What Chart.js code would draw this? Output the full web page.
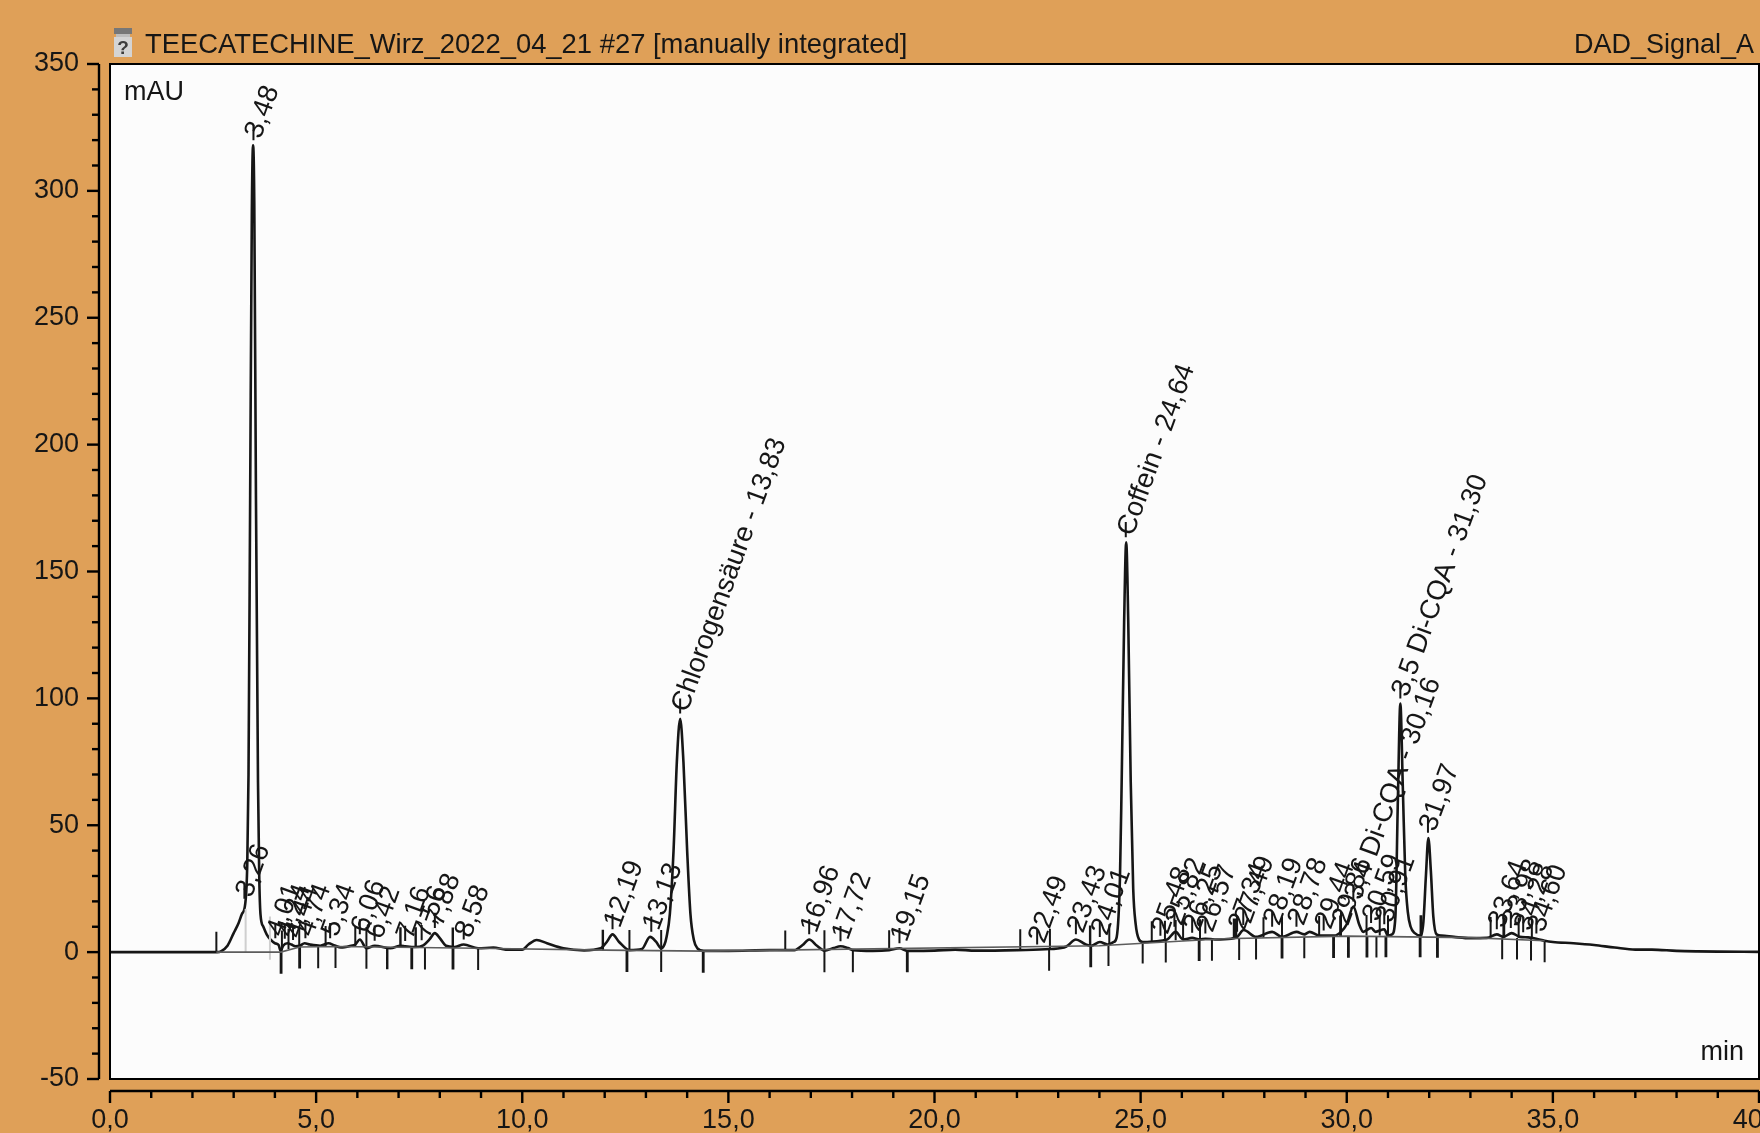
<!DOCTYPE html>
<html>
<head>
<meta charset="utf-8">
<title>TEECATECHINE_Wirz_2022_04_21 #27</title>
<script src="https://cdn.jsdelivr.net/npm/chart.js@4/dist/chart.umd.js"></script>
<style>
    html, body { margin: 0; padding: 0; background: #dfa058; overflow: hidden; }
    canvas { display: block; }
</style>
</head>
<body>
<canvas id="chartOne" width="1760" height="1133"></canvas>
<script>
const titleText = 'TEECATECHINE_Wirz_2022_04_21 #27 [manually integrated]';
const signalText = 'DAD_Signal_A';

const xTickLabels = ['0,0', '5,0', '10,0', '15,0', '20,0', '25,0', '30,0', '35,0', '40,0'];
const yTickLabels = ['-50', '0', '50', '100', '150', '200', '250', '300', '350'];

// chromatogram
const curveTimes = [0, 2.6, 2.7, 2.85, 3.0, 3.12, 3.2, 3.28, 3.33, 3.36, 3.4, 3.44, 3.47, 3.5, 3.54, 3.59, 3.62, 3.65, 3.72, 3.8, 3.89, 4.0, 4.09, 4.14, 4.2, 4.3, 4.4, 4.5, 4.6, 4.72, 4.85, 5.1, 5.3, 5.45, 5.6, 5.85, 5.95, 6.06, 6.22, 6.42, 6.8, 7.05, 7.16, 7.4, 7.6, 7.75, 7.88, 8.0, 8.15, 8.35, 8.58, 8.93, 9.3, 9.6, 10.0, 10.15, 10.35, 10.6, 11.0, 11.5, 11.9, 12.05, 12.19, 12.35, 12.6, 12.9, 13.1, 13.25, 13.37, 13.45, 13.5, 13.58, 13.67, 13.75, 13.83, 13.91, 14.0, 14.08, 14.16, 14.25, 14.4, 15.0, 16.0, 16.6, 16.8, 16.96, 17.15, 17.33, 17.55, 17.72, 17.9, 18.02, 18.5, 18.9, 19.15, 19.34, 20.0, 20.5, 21.0, 22.0, 22.8, 23.2, 23.43, 23.65, 23.8, 24.01, 24.2, 24.35, 24.42, 24.5, 24.54, 24.6, 24.65, 24.7, 24.76, 24.82, 24.88, 24.96, 25.05, 25.3, 25.48, 25.65, 25.85, 26.03, 26.25, 26.44, 26.57, 26.8, 27.2, 27.34, 27.5, 27.8, 28.19, 28.43, 28.78, 28.97, 29.1, 29.33, 29.44, 29.7, 29.86, 30.0, 30.16, 30.3, 30.4, 30.59, 30.7, 30.91, 31.0, 31.1, 31.18, 31.24, 31.3, 31.36, 31.42, 31.48, 31.55, 31.65, 31.8, 31.86, 31.92, 31.98, 32.04, 32.1, 32.18, 32.3, 32.6, 33.0, 33.4, 33.64, 33.8, 34.0, 34.2, 34.4, 34.6, 34.8, 35.0, 35.5, 36.0, 36.5, 37.0, 37.4, 38.0, 38.5, 39.0, 40.0];
const curveValues = [0, 0, 0.4, 2.5, 7.5, 11.5, 15, 19, 35, 70, 180, 290, 318, 295, 180, 67, 30, 15, 10, 7, 5, 3.5, 2.8, 0.5, 2.5, 3.5, 3, 2.3, 2.5, 3.5, 3, 2.5, 3.5, 2.6, 1.8, 2.5, 3, 5, 1.5, 2.5, 1.5, 2.5, 2.3, 2, 2.7, 5, 7.5, 5.5, 2.5, 2, 3, 1.5, 1.8, 1, 1, 3, 4.8, 3.5, 1.5, 0.7, 1.5, 4, 7, 4, 0.8, 1.2, 6, 4, 1.5, 3, 6, 15, 40, 75, 92, 75, 40, 15, 5, 1.5, 0.5, 0.5, 0.8, 0.8, 2.8, 5, 2.5, 0.6, 1.6, 2.3, 1.6, 0.8, 0.5, 0.8, 1.5, 0.5, 0.6, 1, 0.6, 0.8, 1.2, 2.2, 5, 3.2, 2.5, 4, 3, 4, 6, 30, 67, 130, 161.5, 130, 67, 25, 11, 5, 4, 4.2, 4.5, 5, 8, 5, 5.6, 5, 5.3, 5, 5.3, 6, 8.7, 6, 8, 6, 8, 7, 8, 6.5, 6.5, 6.5, 8, 11, 18, 11, 8, 9.5, 8, 9, 6.5, 7, 14, 60, 98, 65, 30, 16, 10, 7.5, 6.5, 12, 30, 45, 32, 14, 7, 6.5, 6, 5.5, 5.6, 7, 6, 7.5, 6, 5.8, 5.3, 4.5, 4, 3.5, 2.8, 1.8, 1, 1, 0.5, 0.3, 0.2, 0.1];

// integrated baseline
const baseTimes = [2.58, 4.14, 4.6, 5.5, 8.9, 12, 14.4, 24, 27, 30, 33, 34.8];
const baseValues = [0, 0, 2, 2.2, 1.5, 0.8, 0.4, 2.5, 5.3, 6.3, 5.7, 4.5];

// peak start / end ticks
const startTimes = [2.58, 4.17, 4.33, 4.59, 5.23, 5.95, 6.22, 7.04, 7.05, 7.41, 7.42, 8.31, 8.32, 11.95, 11.96, 12.6, 13.37, 16.38, 17.33, 18.9, 22.08, 22.8, 23.77, 23.78, 24.24, 25.27, 25.59, 25.85, 26.03, 26.44, 27.26, 27.29, 27.32, 27.98, 28.43, 29.33, 29.84, 29.86, 30.48, 30.8, 31.0, 31.79, 31.81, 33.49, 33.8, 33.82, 34.17, 34.49];
const startBase = [0, 0.5, 1.2, 2, 2.3, 2.2, 1.9, 1.8, 1.8, 1.8, 1.8, 1.7, 1.7, 0.8, 0.8, 0.7, 0.7, 0.5, 0.6, 0.6, 1, 1.2, 2.5, 2.5, 3, 4.2, 4.4, 4.7, 4.8, 5, 5.3, 5.3, 5.3, 5.7, 6, 6.2, 6.4, 6.4, 6.6, 6.6, 6.5, 6.5, 6.5, 5.8, 5.7, 5.7, 5.6, 5.2];
const endTimes = [4.14, 4.16, 4.59, 4.61, 5.05, 5.47, 6.22, 6.72, 6.73, 7.31, 7.33, 7.64, 8.31, 8.33, 8.93, 12.53, 12.55, 13.37, 14.38, 14.4, 17.33, 18.02, 19.33, 19.35, 22.78, 23.78, 23.8, 24.22, 25.05, 25.61, 26.41, 26.43, 26.73, 27.39, 27.8, 28.42, 28.44, 28.97, 29.67, 29.69, 30.03, 30.05, 30.48, 30.5, 30.72, 30.94, 30.96, 31.77, 31.79, 32.19, 32.21, 33.77, 34.13, 34.47, 34.8];
const endBase = [0, 0, 2, 2, 2.1, 2.2, 1.9, 1.8, 1.8, 1.8, 1.8, 1.7, 1.7, 1.7, 1.5, 0.7, 0.7, 0.7, 0.4, 0.4, 0.6, 0.6, 0.6, 0.6, 1.2, 2.5, 2.5, 3, 4, 4.4, 5, 5, 5.1, 5.4, 5.6, 6, 6, 6.1, 6.2, 6.2, 6.3, 6.3, 6.4, 6.4, 6.4, 6.5, 6.5, 6.5, 6.5, 6.3, 6.3, 5.7, 5.6, 5.2, 4.5];
const greyTimes = [3.29, 3.88];
const greyBase = [0, -3];

// peak labels
const peakLabels = ['3,26', '3,48', '4,01', '4,24', '4,44', '4,74', '5,34', '6,06', '6,42', '7,16', '7,56', '7,88', '8,58', '12,19', '13,13', 'Chlorogensäure - 13,83', '16,96', '17,72', '19,15', '22,49', '23,43', '24,01', 'Coffein - 24,64', '25,48', '25,82', '26,25', '26,57', '27,34', '27,49', '28,19', '28,78', '29,44', '29,86', '3,4 Di-CQA - 30,16', '30,59', '30,91', '3,5 Di-CQA - 31,30', '31,97', '33,64', '33,98', '34,28', '34,60'];
const peakTimes = [3.26, 3.48, 4.01, 4.24, 4.44, 4.74, 5.34, 6.06, 6.42, 7.16, 7.56, 7.88, 8.58, 12.19, 13.13, 13.83, 16.96, 17.72, 19.15, 22.49, 23.43, 24.01, 24.64, 25.48, 25.82, 26.25, 26.57, 27.34, 27.49, 28.19, 28.78, 29.44, 29.86, 30.16, 30.59, 30.91, 31.3, 31.97, 33.64, 33.98, 34.28, 34.6];
const peakTops = [19, 318, 3.5, 3.3, 2.8, 3.5, 3.5, 5, 2.5, 2.4, 2.7, 7.5, 3, 7, 6, 92, 5, 2.3, 1.5, 1, 5, 4, 161.5, 4.5, 8, 5.6, 5.3, 6, 8.7, 8, 8, 6.5, 8, 18, 9.5, 9, 98, 45, 7, 7.5, 5.8, 5.3];

function toPoints(times, values) {
    return times.map((t, i) => ({ x: t, y: values[i] }));
}

// one short vertical stroke per time, separated by gaps
function toStrokes(times, bases, from, to) {
    const pts = [];
    times.forEach((t, i) => {
        pts.push({ x: t, y: bases[i] + from });
        pts.push({ x: t, y: bases[i] + to });
        pts.push({ x: t, y: null });
    });
    return pts;
}

function lineSet(data, color, width) {
    return { data: data, showLine: true, borderColor: color, borderWidth: width, pointRadius: 0, spanGaps: false };
}

const numFont = '"Liberation Sans", Arial, sans-serif';
const ink = '#161616';

const decor = {
    id: 'decor',
    beforeDraw(chart) {
        const a = chart.chartArea, c = chart.ctx;
        c.fillStyle = '#fcfcfc';
        c.fillRect(a.left, a.top, a.right - a.left, a.bottom - a.top);
    },
    afterDatasetsDraw(chart) {
        const c = chart.ctx, a = chart.chartArea;
        const xs = chart.scales.x, ys = chart.scales.y;
        c.save();

        // frame
        c.strokeStyle = '#000';
        c.lineWidth = 2;
        c.strokeRect(a.left, a.top, a.right - a.left, a.bottom - a.top);

        // separate axes
        c.lineWidth = 2.4;
        c.beginPath();
        c.moveTo(99, ys.getPixelForValue(350));
        c.lineTo(99, ys.getPixelForValue(-50));
        c.moveTo(xs.getPixelForValue(0), 1091);
        c.lineTo(xs.getPixelForValue(40), 1091);
        c.stroke();
        ys.ticks.forEach((t) => {
            const p = ys.getPixelForValue(t.value);
            c.beginPath();
            c.moveTo(99, p);
            c.lineTo(t.value % 50 === 0 ? 87 : 92, p);
            c.stroke();
        });
        xs.ticks.forEach((t) => {
            const p = xs.getPixelForValue(t.value);
            c.beginPath();
            c.moveTo(p, 1091);
            c.lineTo(p, t.value % 5 === 0 ? 1103 : 1098);
            c.stroke();
        });

        // rotated peak labels
        c.fillStyle = ink;
        c.font = '27.5px ' + numFont;
        c.textAlign = 'left';
        c.textBaseline = 'middle';
        peakLabels.forEach((label, i) => {
            c.save();
            c.translate(xs.getPixelForValue(peakTimes[i]), ys.getPixelForValue(peakTops[i]) - 8);
            c.rotate(-70 * Math.PI / 180);
            c.fillText(label, 0, 0);
            c.restore();
        });

        // header and units
        c.textBaseline = 'alphabetic';
        c.font = '27.4px ' + numFont;
        c.fillText(titleText, 145, 53);
        c.textAlign = 'right';
        c.font = '27px ' + numFont;
        c.fillText(signalText, 1754, 53);
        c.fillText('min', 1744, 1060);
        c.textAlign = 'left';
        c.fillText('mAU', 124, 100);

        // vial icon
        c.fillStyle = '#777';
        c.fillRect(114, 28, 18, 6);
        c.fillStyle = '#bdbdbd';
        c.fillRect(116, 34, 14, 3);
        c.fillStyle = '#d4d4d4';
        c.fillRect(114, 37, 18, 20);
        c.fillStyle = '#3c3c3c';
        c.font = 'bold 19px ' + numFont;
        c.textAlign = 'center';
        c.fillText('?', 123, 54);
        c.restore();
    }
};

function getChartOne() {
    const ctxOne = document.getElementById('chartOne').getContext('2d');
    const curve = lineSet(toPoints(curveTimes, curveValues), ink, 2.6);
    curve.cubicInterpolationMode = 'monotone';
    return new Chart(ctxOne, {
        type: 'scatter',
        data: {
            datasets: [
                lineSet(toPoints(baseTimes, baseValues), '#5c5c5c', 1.6),
                lineSet(toStrokes(greyTimes, greyBase, 0, 17), '#cfcfcf', 2),
                lineSet(toStrokes(startTimes, startBase, 0, 8), ink, 2),
                lineSet(toStrokes(endTimes, endBase, 0, -8.5), ink, 2),
                lineSet(toStrokes(peakTimes, peakTops, 2, 8), ink, 2),
                curve
            ]
        },
        plugins: [decor],
        options: {
            responsive: false,
            animation: false,
            layout: { padding: { top: 64, right: 1, left: 0, bottom: 0 } },
            plugins: { legend: { display: false }, tooltip: { enabled: false } },
            scales: {
                x: {
                    type: 'linear',
                    min: 0,
                    max: 40,
                    grid: { display: false },
                    border: { display: false },
                    afterFit(s) { s.height = 54; s.paddingLeft = 0; s.paddingRight = 0; },
                    ticks: {
                        stepSize: 1,
                        autoSkip: false,
                        maxRotation: 0,
                        padding: 17,
                        color: ink,
                        font: { family: numFont, size: 27 },
                        callback: (v) => (v % 5 === 0 ? xTickLabels[v / 5] : '')
                    }
                },
                y: {
                    min: -50,
                    max: 350,
                    grid: { display: false },
                    border: { display: false },
                    afterFit(s) { s.width = 110; s.paddingTop = 0; s.paddingBottom = 0; },
                    ticks: {
                        stepSize: 10,
                        autoSkip: false,
                        padding: 23,
                        color: ink,
                        font: { family: numFont, size: 27 },
                        callback: (v) => (v % 50 === 0 ? yTickLabels[(v + 50) / 50] : '')
                    }
                }
            }
        }
    });
}

getChartOne();
</script>
</body>
</html>
